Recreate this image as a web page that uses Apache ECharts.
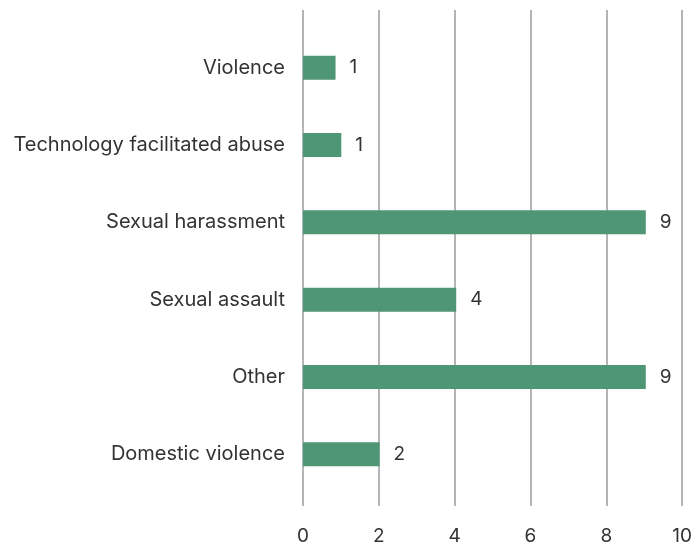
<!DOCTYPE html>
<html><head><meta charset="utf-8">
<script src="https://cdn.jsdelivr.net/npm/echarts@6/dist/echarts.min.js"></script>
<style>html,body{margin:0;padding:0;background:#fff}#c{width:695px;height:546px}</style>
</head><body><div id="c"></div>
<script>
const categories = ["Domestic violence","Other","Sexual assault","Sexual harassment","Technology facilitated abuse","Violence"];
const values = [2, 8.95, 4, 8.95, 1, 0.85];
const xTicks = [0, 2, 4, 6, 8, 10];

const chart = echarts.init(document.getElementById('c'));
const font = 'Inter, "Noto Sans", sans-serif';
chart.setOption({
  animation: false,
  grid: [
    {left: 303, right: 9, top: 29, bottom: 53},
    {left: 303, right: 9, top: 10, bottom: 38}
  ],
  xAxis: [
    {gridIndex: 0, type: 'value', min: xTicks[0], max: xTicks[xTicks.length-1], interval: 2, show: false, splitLine: {show: false}},
    {gridIndex: 1, type: 'value', min: xTicks[0], max: xTicks[xTicks.length-1], interval: 2,
     axisLine: {show: false}, axisTick: {show: false},
     axisLabel: {color: '#333', fontSize: 19, fontFamily: font, margin: 21},
     splitLine: {show: true, lineStyle: {color: '#b5b5b8', width: 2}}}
  ],
  yAxis: [
    {gridIndex: 0, type: 'category', data: categories,
     axisLine: {show: false}, axisTick: {show: false},
     axisLabel: {color: '#333', fontSize: 20, fontFamily: font, margin: 18}},
    {gridIndex: 1, type: 'category', data: categories, show: false}
  ],
  series: [{
    type: 'bar', xAxisIndex: 0, yAxisIndex: 0,
    data: values, barWidth: 24,
    itemStyle: {color: '#4f9674'},
    label: {show: true, position: 'right', distance: 14, color: '#333', fontSize: 19, fontFamily: font,
      formatter: p => Math.round(p.value)}
  }]
});
</script></body></html>
